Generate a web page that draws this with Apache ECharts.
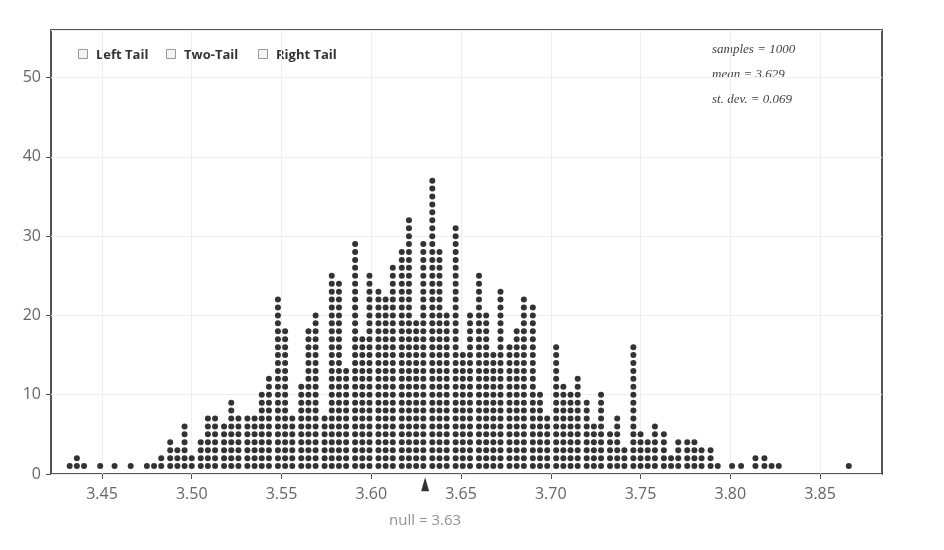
<!DOCTYPE html>
<html>
<head>
<meta charset="utf-8">
<script src="https://cdn.jsdelivr.net/npm/echarts@6/dist/echarts.min.js"></script>
<style>
  html, body { margin: 0; padding: 0; background: #fff; }
  #main { width: 944px; height: 550px; }
</style>
</head>
<body>
<div id="main"></div>
<script>
'use strict'
// dot plot of 1000 sample means, one dot per sample

// column centres (only columns that have dots)
var colX = [3.432, 3.436, 3.440, 3.449, 3.457, 3.466, 3.475, 3.479, 3.483, 3.488,
            3.492, 3.496, 3.500, 3.505, 3.509, 3.513, 3.518, 3.522, 3.526, 3.531,
            3.535, 3.539, 3.543, 3.548, 3.552, 3.556, 3.561, 3.565, 3.569, 3.574,
            3.578, 3.582, 3.586, 3.591, 3.595, 3.599, 3.604, 3.608, 3.612, 3.617,
            3.621, 3.625, 3.629, 3.634, 3.638, 3.642, 3.647, 3.651, 3.655, 3.660,
            3.664, 3.668, 3.672, 3.677, 3.681, 3.685, 3.690, 3.694, 3.698, 3.703,
            3.707, 3.711, 3.715, 3.720, 3.724, 3.728, 3.733, 3.737, 3.741, 3.746,
            3.750, 3.754, 3.758, 3.763, 3.767, 3.771, 3.776, 3.780, 3.784, 3.789,
            3.793, 3.801, 3.806, 3.814, 3.819, 3.823, 3.827, 3.866];

// number of dots in each column
var colCount = [1, 2, 1, 1, 1, 1, 1, 1, 2, 4,
                3, 6, 2, 4, 7, 7, 6, 9, 7, 7,
                7, 10, 12, 22, 18, 7, 11, 18, 20, 7,
                25, 24, 13, 29, 17, 25, 23, 22, 26, 28,
                32, 19, 29, 37, 28, 20, 31, 15, 20, 25,
                20, 15, 23, 16, 18, 22, 21, 10, 7, 16,
                11, 10, 12, 9, 6, 10, 5, 7, 3, 16,
                5, 4, 6, 5, 2, 4, 4, 4, 3, 3,
                1, 1, 1, 2, 2, 1, 1, 1];

var xTicks = [3.45, 3.50, 3.55, 3.60, 3.65, 3.70, 3.75, 3.80, 3.85];
var statLines = ['samples = 1000', 'mean = 3.629', 'st. dev. = 0.069'];
var tailNames = ['Left Tail', 'Two-Tail', 'Right Tail'];
var nullValue = 3.63;

var dots = [];
for (var i = 0; i < colX.length; i++) {
    for (var k = 1; k <= colCount[i]; k++) {
        dots.push([colX[i], k]);
    }
}

var graphics = [];
var tailX = [78, 166, 258];
tailNames.forEach(function (name, i) {
    graphics.push({
        type: 'rect', left: tailX[i], top: 49,
        shape: { width: 9, height: 9 },
        style: { fill: '#f4f4f4', stroke: '#999', lineWidth: 1 }
    });
    graphics.push({
        type: 'text', left: tailX[i] + 18, top: 49,
        style: { text: name, font: 'bold 13px "Open Sans", sans-serif', fill: '#333' }
    });
});
statLines.forEach(function (s, i) {
    graphics.push({
        type: 'text', left: 712, top: 43 + i * 25,
        style: { text: s, font: 'italic 13px "Liberation Serif", serif', fill: '#444' }
    });
});

var option = {
    animation: false,
    grid: { left: 51, right: 62, top: 30, bottom: 76, show: true,
            borderColor: '#555', borderWidth: 2 },
    xAxis: {
        type: 'value', min: 3.4216, max: 3.8845,
        axisLine: { show: false },
        axisTick: { show: true, customValues: xTicks, length: 5,
                    lineStyle: { color: '#555' } },
        axisLabel: { customValues: xTicks, color: '#666', fontSize: 16, margin: 12,
                     fontFamily: 'Open Sans',
                     formatter: function (v) { return v.toFixed(2); } },
        splitLine: { show: true, lineStyle: { color: '#eee' } }
    },
    yAxis: {
        type: 'value', min: 0, max: 56, interval: 10,
        axisLine: { show: false },
        axisTick: { show: true, length: 5, lineStyle: { color: '#555' } },
        axisLabel: { color: '#666', fontSize: 16, margin: 10, fontFamily: 'Open Sans',
                     showMaxLabel: false },
        splitLine: { show: true, lineStyle: { color: '#eee' } }
    },
    graphic: graphics,
    series: [
        {
            type: 'scatter', data: dots, symbol: 'circle', symbolSize: 6,
            itemStyle: { color: '#000' }
        },
        {
            type: 'scatter', data: [[nullValue, -1.3]], clip: false,
            symbol: 'triangle', symbolSize: [8, 14],
            itemStyle: { color: '#000' },
            label: { show: true, position: 'bottom', distance: 22,
                     formatter: 'null = ' + nullValue.toFixed(2),
                     color: '#777', fontSize: 15, fontFamily: 'Open Sans' }
        }
    ]
};

var myChart = echarts.init(document.getElementById('main'));
myChart.setOption(option);
</script>
</body>
</html>
